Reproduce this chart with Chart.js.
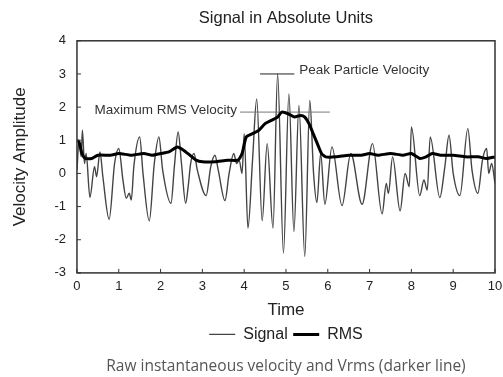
<!DOCTYPE html>
<html>
<head>
<meta charset="utf-8">
<script src="https://cdn.jsdelivr.net/npm/chart.js@4"></script>
<style>
html, body { margin: 0; padding: 0; background: #fff; }
</style>
</head>
<body>
<canvas id="signalChart" width="503" height="377"></canvas>
<script>
// raw instantaneous velocity (time, amplitude)
var signalTimes = [0.00, 0.05, 0.10, 0.13, 0.18, 0.22, 0.31, 0.42, 0.47, 0.55, 0.62, 0.77, 0.90, 1.00, 1.10, 1.18, 1.25, 1.30, 1.36, 1.50,
    1.58, 1.73, 1.85, 1.96, 2.05, 2.25, 2.33, 2.42, 2.50, 2.60, 2.66, 2.72, 2.80, 2.88, 3.09, 3.20, 3.30, 3.38, 3.54, 3.64,
    3.75, 3.82, 3.88, 3.95, 4.00, 4.09, 4.20, 4.30, 4.43, 4.55, 4.69, 4.80, 4.94, 5.07, 5.19, 5.31, 5.45, 5.57, 5.66, 5.74,
    5.83, 5.93, 6.10, 6.34, 6.55, 6.82, 7.07, 7.30, 7.40, 7.45, 7.55, 7.73, 7.85, 7.95, 8.00, 8.20, 8.30, 8.38, 8.45, 8.68,
    8.80, 8.90, 9.00, 9.16, 9.35, 9.45, 9.59, 9.70, 9.80, 9.85, 9.92, 10.0];
var signalValues = [0.1, 1.0, 0.5, 1.3, 0.3, 0.6, -0.72, 0.2, -0.1, 0.65, -0.1, -1.38, 0.3, 0.75, -0.2, -0.75, -0.6, -0.8, 0.2, 1.1,
    0.0, -1.43, 0.3, 1.1, 0.1, -0.9, 0.2, 1.25, 0.3, -0.9, -0.4, 0.3, 0.6, 0.1, -0.67, 0.2, 0.55, 0.1, -0.82, 0.0,
    0.6, 0.3, 0.4, 0.0, 1.2, -1.65, 0.4, 2.25, -1.43, 0.9, -1.65, 3.0, -2.4, 2.4, -1.75, 2.05, -2.5, 2.2, 0.0, -0.88,
    0.6, -0.93, 0.8, -0.97, 0.6, -0.93, 0.9, -1.22, -0.3, -0.6, 0.5, -1.13, 0.0, -0.4, 1.4, -0.67, -0.2, -0.5, 1.1, -0.73,
    0.2, 1.15, 0.0, -0.67, 1.35, 0.1, -0.6, 0.4, 0.75, 0.0, 0.3, -0.3];

// Vrms (darker line)
var rmsTimes = [0.00, 0.05, 0.12, 0.20, 0.35, 0.50, 0.80, 1.00, 1.30, 1.60, 1.80, 2.00, 2.20, 2.40, 2.55, 2.70, 2.85, 3.00, 3.30, 3.60,
    3.85, 3.95, 4.05, 4.20, 4.35, 4.50, 4.65, 4.80, 4.90, 5.05, 5.20, 5.35, 5.45, 5.55, 5.65, 5.75, 5.85, 5.95, 6.20, 6.50,
    6.80, 7.00, 7.20, 7.50, 7.80, 8.00, 8.20, 8.35, 8.50, 8.70, 9.00, 9.30, 9.60, 9.80, 10.0];
var rmsValues = [1.0, 0.95, 0.6, 0.45, 0.45, 0.55, 0.55, 0.6, 0.55, 0.6, 0.55, 0.6, 0.65, 0.8, 0.7, 0.55, 0.4, 0.35, 0.35, 0.4,
    0.4, 0.6, 1.1, 1.2, 1.3, 1.5, 1.6, 1.7, 1.85, 1.8, 1.7, 1.75, 1.7, 1.5, 1.2, 0.9, 0.6, 0.5, 0.5, 0.55,
    0.55, 0.6, 0.55, 0.6, 0.55, 0.6, 0.45, 0.5, 0.6, 0.55, 0.55, 0.5, 0.5, 0.45, 0.5];

var xTicks = [0, 1, 2, 3, 4, 5, 6, 7, 8, 9, 10];
var yTicks = [-3, -2, -1, 0, 1, 2, 3, 4];

// annotation markers
var maxRms = 1.85;
var maxRmsSpan = [3.9, 6.05];
var peakVelocity = 3.0;
var peakSpan = [4.38, 5.2];

function toPoints(xs, ys) {
    return xs.map(function(x, i) { return { x: x, y: ys[i] }; });
}

var sansFont = '"Liberation Sans", Arial, sans-serif';

var framePlugin = {
    id: 'frame',
    afterDatasetsDraw: function(chart) {
        var ctx = chart.ctx;
        var area = chart.chartArea;
        var xs = chart.scales.x;
        var ys = chart.scales.y;
        ctx.save();
        ctx.strokeStyle = '#333';
        ctx.lineWidth = 1.5;
        ctx.strokeRect(area.left, area.top, area.right - area.left, area.bottom - area.top);
        ctx.lineWidth = 1;
        ctx.beginPath();
        xTicks.forEach(function(t) {
            var px = xs.getPixelForValue(t);
            ctx.moveTo(px, area.bottom);
            ctx.lineTo(px, area.bottom - 4);
        });
        yTicks.forEach(function(t) {
            var py = ys.getPixelForValue(t);
            ctx.moveTo(area.left, py);
            ctx.lineTo(area.left + 4, py);
        });
        ctx.stroke();

        ctx.fillStyle = '#333';
        ctx.font = '13.5px ' + sansFont;
        ctx.textBaseline = 'middle';
        ctx.textAlign = 'right';
        ctx.fillText('Maximum RMS Velocity', xs.getPixelForValue(maxRmsSpan[0]) - 3, ys.getPixelForValue(maxRms) - 2);
        ctx.textAlign = 'left';
        ctx.fillText('Peak Particle Velocity', xs.getPixelForValue(peakSpan[1]) + 5, ys.getPixelForValue(peakVelocity) - 4);
        ctx.restore();
    }
};

var ctx = document.getElementById('signalChart').getContext('2d');
var chart = new Chart(ctx, {
    type: 'line',
    data: {
        datasets: [{
            label: 'Signal',
            data: toPoints(signalTimes, signalValues),
            borderColor: '#444',
            backgroundColor: '#444',
            borderWidth: 1.4,
            pointRadius: 0,
            cubicInterpolationMode: 'monotone',
            order: 2
        }, {
            label: 'RMS',
            data: toPoints(rmsTimes, rmsValues),
            borderColor: '#000',
            backgroundColor: '#000',
            borderWidth: 3,
            pointRadius: 0,
            tension: 0.2,
            order: 0
        }, {
            label: 'maxRmsMarker',
            data: toPoints(maxRmsSpan, [maxRms, maxRms]),
            borderColor: '#777',
            borderWidth: 1,
            pointRadius: 0,
            order: 1
        }, {
            label: 'peakMarker',
            data: toPoints(peakSpan, [peakVelocity, peakVelocity]),
            borderColor: '#222',
            borderWidth: 1,
            pointRadius: 0,
            order: 1
        }]
    },
    options: {
        responsive: false,
        animation: false,
        layout: { padding: { left: 6, right: 0, top: 0, bottom: 0 } },
        scales: {
            x: {
                type: 'linear',
                min: 0,
                max: 10,
                grid: { display: false, drawTicks: false },
                border: { display: false },
                ticks: { stepSize: 1, padding: 6, color: '#222', font: { size: 13, family: sansFont } },
                title: { display: true, text: 'Time', color: '#222', font: { size: 17, family: sansFont }, padding: { top: 0, bottom: 0 } },
                afterFit: function(scale) { scale.paddingRight = 8; }
            },
            y: {
                min: -3,
                max: 4,
                grid: { display: false, drawTicks: false },
                border: { display: false },
                ticks: { stepSize: 1, padding: 11, color: '#222', font: { size: 13, family: sansFont } },
                title: { display: true, text: 'Velocity Amplitude', color: '#222', font: { size: 17, family: sansFont }, padding: { top: 4, bottom: 13 } }
            }
        },
        plugins: {
            title: {
                display: true,
                text: 'Signal in Absolute Units',
                color: '#222',
                fullSize: false,
                font: { size: 16.5, weight: 'normal', family: sansFont },
                padding: { top: 9, bottom: 12 }
            },
            legend: {
                position: 'bottom',
                fullSize: false,
                labels: {
                    usePointStyle: true,
                    pointStyle: 'line',
                    pointStyleWidth: 26,
                    padding: 5.5,
                    color: '#222',
                    font: { size: 16, family: sansFont },
                    filter: function(item) { return item.text === 'Signal' || item.text === 'RMS'; },
                    sort: function(a, b) { return a.datasetIndex - b.datasetIndex; }
                }
            },
            subtitle: {
                display: true,
                position: 'bottom',
                fullSize: false,
                text: 'Raw instantaneous velocity and Vrms (darker line)',
                color: '#555',
                font: { size: 15.5, family: '"Open Sans", sans-serif' },
                padding: { top: 5, bottom: 1 }
            },
            tooltip: { enabled: false }
        }
    },
    plugins: [framePlugin]
});
</script>
</body>
</html>
